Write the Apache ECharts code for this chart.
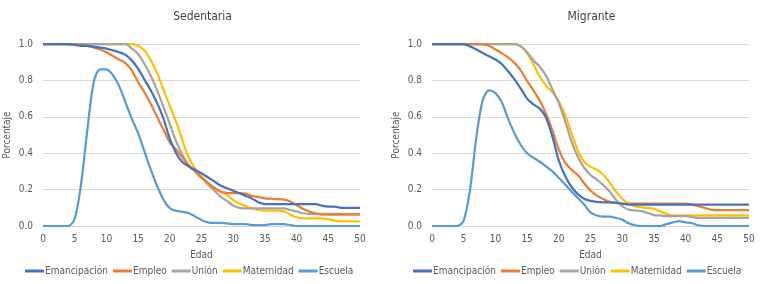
<!DOCTYPE html>
<html>
<head>
<meta charset="utf-8">
<script src="https://cdn.jsdelivr.net/npm/echarts@6/dist/echarts.min.js"></script>
<style>
  html, body { margin: 0; padding: 0; background: #fff; }
  #chart { width: 762px; height: 284px; }
</style>
</head>
<body>
<div id="chart"></div>
<script>
// Edad 0..50, one value per year
const ages = Array.from({ length: 51 }, (_, i) => i)
const xTicks = [0, 5, 10, 15, 20, 25, 30, 35, 40, 45, 50]
const yTicks = [0, 0.2, 0.4, 0.6, 0.8, 1.0]
const seriesNames = ['Emancipación', 'Empleo', 'Unión', 'Maternidad', 'Escuela']
const panelTitles = ['Sedentaria', 'Migrante']

/* ---------- Sedentaria ---------- */
const sedEmancipacion = [1, 1, 1, 1, 1, 0.995, 0.99, 0.99, 0.985, 0.98, 0.975, 0.965, 0.955, 0.94, 0.91, 0.865, 0.805, 0.745, 0.675, 0.59, 0.48, 0.40, 0.35, 0.327, 0.308, 0.29, 0.268, 0.245, 0.222, 0.207, 0.194, 0.18, 0.165, 0.15, 0.13, 0.12, 0.12, 0.12, 0.12, 0.12, 0.12, 0.12, 0.12, 0.12, 0.112, 0.107, 0.107, 0.10, 0.10, 0.10, 0.10]
const sedEmpleo = [1, 1, 1, 1, 1, 1, 0.995, 0.99, 0.98, 0.97, 0.955, 0.935, 0.915, 0.895, 0.855, 0.79, 0.735, 0.67, 0.60, 0.53, 0.46, 0.42, 0.375, 0.33, 0.30, 0.265, 0.237, 0.21, 0.19, 0.182, 0.18, 0.18, 0.178, 0.165, 0.16, 0.152, 0.15, 0.148, 0.145, 0.135, 0.115, 0.095, 0.08, 0.07, 0.062, 0.062, 0.062, 0.062, 0.062, 0.062, 0.062]
const sedUnion = [1, 1, 1, 1, 1, 1, 1, 1, 1, 1, 1, 1, 1, 1, 0.975, 0.945, 0.89, 0.825, 0.745, 0.655, 0.56, 0.465, 0.39, 0.333, 0.30, 0.265, 0.23, 0.195, 0.162, 0.138, 0.113, 0.10, 0.097, 0.097, 0.097, 0.097, 0.097, 0.097, 0.097, 0.088, 0.08, 0.07, 0.066, 0.066, 0.066, 0.066, 0.066, 0.066, 0.066, 0.066, 0.066]
const sedMaternidad = [1, 1, 1, 1, 1, 1, 1, 1, 1, 1, 1, 1, 1, 1, 1, 0.99, 0.965, 0.91, 0.84, 0.75, 0.66, 0.572, 0.47, 0.375, 0.315, 0.273, 0.24, 0.208, 0.187, 0.172, 0.142, 0.122, 0.108, 0.097, 0.088, 0.084, 0.084, 0.084, 0.08, 0.062, 0.048, 0.042, 0.042, 0.042, 0.042, 0.037, 0.03, 0.026, 0.026, 0.026, 0.026]
const sedEscuela = [0, 0, 0, 0, 0, 0.04, 0.23, 0.53, 0.79, 0.86, 0.86, 0.83, 0.77, 0.68, 0.59, 0.51, 0.41, 0.31, 0.22, 0.145, 0.098, 0.083, 0.078, 0.07, 0.052, 0.033, 0.02, 0.017, 0.017, 0.015, 0.01, 0.01, 0.01, 0.005, 0.005, 0.005, 0.01, 0.01, 0.01, 0.005, 0, 0, 0, 0, 0, 0, 0, 0, 0, 0, 0]

/* ---------- Migrante ---------- */
const migEmancipacion = [1, 1, 1, 1, 1, 1, 0.987, 0.97, 0.95, 0.933, 0.915, 0.89, 0.85, 0.806, 0.755, 0.70, 0.668, 0.645, 0.595, 0.49, 0.36, 0.275, 0.215, 0.175, 0.15, 0.138, 0.132, 0.13, 0.13, 0.127, 0.123, 0.118, 0.118, 0.118, 0.118, 0.118, 0.118, 0.118, 0.118, 0.118, 0.118, 0.118, 0.118, 0.118, 0.118, 0.118, 0.118, 0.118, 0.118, 0.118, 0.118]
const migEmpleo = [1, 1, 1, 1, 1, 1, 1, 1, 1, 0.99, 0.97, 0.95, 0.927, 0.897, 0.855, 0.797, 0.745, 0.688, 0.616, 0.525, 0.42, 0.348, 0.31, 0.28, 0.235, 0.195, 0.167, 0.148, 0.133, 0.128, 0.123, 0.123, 0.123, 0.123, 0.123, 0.123, 0.123, 0.123, 0.123, 0.123, 0.123, 0.118, 0.109, 0.10, 0.09, 0.087, 0.087, 0.087, 0.087, 0.087, 0.087]
const migUnion = [1, 1, 1, 1, 1, 1, 1, 1, 1, 1, 1, 1, 1, 1, 0.987, 0.955, 0.91, 0.875, 0.825, 0.75, 0.675, 0.575, 0.465, 0.38, 0.32, 0.28, 0.255, 0.225, 0.19, 0.145, 0.109, 0.09, 0.085, 0.082, 0.072, 0.06, 0.058, 0.054, 0.054, 0.054, 0.054, 0.05, 0.045, 0.045, 0.045, 0.045, 0.045, 0.045, 0.045, 0.045, 0.045]
const migMaternidad = [1, 1, 1, 1, 1, 1, 1, 1, 1, 1, 1, 1, 1, 1, 0.987, 0.95, 0.888, 0.82, 0.77, 0.734, 0.684, 0.61, 0.51, 0.415, 0.353, 0.326, 0.309, 0.283, 0.24, 0.19, 0.15, 0.123, 0.109, 0.103, 0.10, 0.094, 0.08, 0.067, 0.058, 0.058, 0.058, 0.058, 0.058, 0.058, 0.058, 0.058, 0.058, 0.058, 0.058, 0.058, 0.058]
const migEscuela = [0, 0, 0, 0, 0, 0.03, 0.20, 0.49, 0.69, 0.745, 0.73, 0.68, 0.59, 0.51, 0.445, 0.40, 0.375, 0.353, 0.328, 0.30, 0.265, 0.228, 0.19, 0.154, 0.118, 0.075, 0.058, 0.052, 0.052, 0.045, 0.035, 0.015, 0.004, 0, 0, 0, 0, 0.01, 0.02, 0.027, 0.02, 0.015, 0.004, 0, 0, 0, 0, 0, 0, 0, 0]

/* Office-style palette */
const COLORS = ['#4472C4', '#ED7D31', '#A5A5A5', '#FFC000', '#5B9BD5']
const FONT = '"DejaVu Sans Condensed", "Liberation Sans Narrow", sans-serif'
const TEXT = '#595959'
const GRID_LINE = '#d9d9d9'

const panels = [
  [sedEmancipacion, sedEmpleo, sedUnion, sedMaternidad, sedEscuela],
  [migEmancipacion, migEmpleo, migUnion, migMaternidad, migEscuela],
]
const gridLefts = [43, 432]
const gridWidth = 317
const legendLefts = [25, 413]

const chart = echarts.init(document.getElementById('chart'), null, { renderer: 'canvas' })

const option = {
  animation: false,
  backgroundColor: '#fff',
  color: COLORS,
  textStyle: { fontFamily: FONT },
  title: panelTitles.map((t, i) => ({
    text: t,
    left: gridLefts[i] + gridWidth / 2 - 4,
    textAlign: 'center',
    top: 6,
    textStyle: { fontFamily: FONT, fontSize: 12, fontWeight: 'normal', color: '#404040' },
  })),
  legend: legendLefts.map(l => ({
    data: seriesNames,
    left: l,
    top: 266,
    width: 420,
    padding: 0,
    orient: 'horizontal',
    itemWidth: 19,
    itemHeight: 3,
    itemGap: 5,
    icon: 'rect',
    textStyle: { fontFamily: FONT, fontSize: 10, color: TEXT, padding: [0, 0, 0, -4] },
  })),
  grid: gridLefts.map(l => ({ left: l, width: gridWidth, top: 44, height: 182 })),
  xAxis: gridLefts.map((_, i) => ({
    type: 'value',
    gridIndex: i,
    min: 0,
    max: 50,
    interval: 5,
    name: 'Edad',
    nameLocation: 'middle',
    nameGap: 24,
    nameTextStyle: { fontFamily: FONT, fontSize: 10, color: TEXT },
    axisLine: { show: true, lineStyle: { color: GRID_LINE } },
    axisTick: { show: false },
    splitLine: { show: false },
    axisLabel: { fontFamily: FONT, fontSize: 10, color: TEXT, margin: 8,
      formatter: v => xTicks.includes(v) ? String(v) : '' },
  })),
  yAxis: gridLefts.map((_, i) => ({
    type: 'value',
    gridIndex: i,
    min: 0,
    max: 1,
    interval: 0.2,
    name: 'Porcentaje',
    nameLocation: 'middle',
    nameGap: 31,
    nameRotate: 90,
    nameTextStyle: { fontFamily: FONT, fontSize: 10, color: TEXT },
    axisLine: { show: false },
    axisTick: { show: false },
    splitLine: { lineStyle: { color: GRID_LINE, width: 1 } },
    axisLabel: { fontFamily: FONT, fontSize: 10, color: TEXT, margin: 10,
      formatter: v => yTicks.some(t => Math.abs(t - v) < 1e-6) ? v.toFixed(1) : '' },
  })),
  series: [],
}

panels.forEach((rows, p) => {
  rows.forEach((vals, k) => {
    option.series.push({
      name: seriesNames[k],
      type: 'line',
      xAxisIndex: p,
      yAxisIndex: p,
      data: ages.map((a, j) => [a, vals[j]]),
      showSymbol: false,
      smooth: 0.3,
      lineStyle: { width: 2.25, color: COLORS[k] },
      itemStyle: { color: COLORS[k] },
      z: 10 - k,
    })
  })
})

chart.setOption(option)
</script>
</body>
</html>
